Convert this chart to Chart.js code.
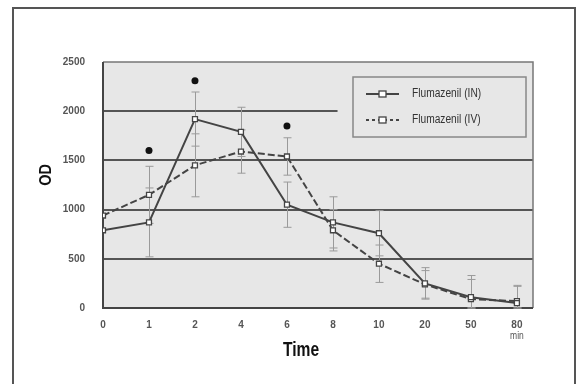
<!DOCTYPE html>
<html>
<head>
<meta charset="utf-8">
<script src="https://cdn.jsdelivr.net/npm/chart.js@4"></script>
<style>
  html, body { margin: 0; padding: 0; background: #fff; }
  #wrap { position: relative; width: 580px; height: 384px; overflow: hidden; }
  #frame { position: absolute; left: 12px; top: 7px; width: 564px; height: 400px; border: 2px solid #555; box-sizing: border-box; border-bottom: none; }
  canvas { position: absolute; left: 0; top: 0; }
</style>
</head>
<body>
<div id="wrap">
  <div id="frame"></div>
  <canvas id="od" width="580" height="384"></canvas>
</div>
<script>
// time points (min), drawn at evenly spaced positions
var timeLabels = ["0", "1", "2", "4", "6", "8", "10", "20", "50", "80"];

// mean OD per time point
var odIN = [790, 870, 1920, 1790, 1050, 870, 760, 250, 110, 50];
var odIV = [940, 1150, 1450, 1590, 1540, 790, 450, 240, 90, 70];

// SD for the error bars
var sdIN = [0, 350, 275, 250, 230, 260, 230, 160, 220, 180];
var sdIV = [0, 290, 320, 220, 190, 210, 190, 140, 200, 150];

// significance dots (*) at 1, 2 and 6 min
var sigIdx = [1, 2, 4];
var sigOD = [1600, 2310, 1850];

var yTicks = [0, 500, 1000, 1500, 2000, 2500];
var gridValues = [500, 1000, 1500, 2000];

var FONT = "'Liberation Sans', 'DejaVu Sans', sans-serif";

function pts(arr) {
    return arr.map(function (v, i) { return {x: i, y: v}; });
}

var sigPts = sigIdx.map(function (x, i) { return {x: x, y: sigOD[i]}; });

// text squeezed horizontally (condensed face)
function narrowText(ctx, txt, x, y, sx) {
    ctx.save();
    ctx.translate(x, y);
    ctx.scale(sx, 1);
    ctx.fillText(txt, 0, 0);
    ctx.restore();
}

// plot panel, grid lines, error bars, legend, titles
var panelPlugin = {
    id: "panel",
    beforeDatasetsDraw: function (chart) {
        var ctx = chart.ctx, a = chart.chartArea, ys = chart.scales.y, xs = chart.scales.x;
        ctx.save();
        ctx.fillStyle = "#e7e7e7";
        ctx.fillRect(a.left, a.top, a.right - a.left, a.bottom - a.top);
        ctx.strokeStyle = "#555";
        ctx.lineWidth = 2;
        gridValues.forEach(function (v) {
            var y = Math.round(ys.getPixelForValue(v));
            // the top grid line stops short of the legend box
            var xEnd = v === 2000 ? xs.getPixelForValue(5.1) : a.right;
            ctx.beginPath();
            ctx.moveTo(a.left, y);
            ctx.lineTo(xEnd, y);
            ctx.stroke();
        });
        ctx.strokeStyle = "#777";
        ctx.lineWidth = 1.5;
        ctx.beginPath();
        ctx.moveTo(a.left, a.top);
        ctx.lineTo(a.right, a.top);
        ctx.lineTo(a.right, a.bottom);
        ctx.stroke();
        ctx.strokeStyle = "#444";
        ctx.lineWidth = 2;
        ctx.beginPath();
        ctx.moveTo(a.left, a.top);
        ctx.lineTo(a.left, a.bottom);
        ctx.lineTo(a.right, a.bottom);
        ctx.stroke();

        // error bars
        ctx.strokeStyle = "#9a9a9a";
        ctx.lineWidth = 1;
        [[odIN, sdIN], [odIV, sdIV]].forEach(function (s) {
            s[0].forEach(function (v, i) {
                if (!s[1][i]) return;
                var x = Math.round(xs.getPixelForValue(i)) + 0.5;
                var hi = ys.getPixelForValue(v + s[1][i]);
                var lo = ys.getPixelForValue(Math.max(0, v - s[1][i]));
                ctx.beginPath();
                ctx.moveTo(x, hi); ctx.lineTo(x, lo);
                ctx.moveTo(x - 4, hi); ctx.lineTo(x + 4, hi);
                ctx.moveTo(x - 4, lo); ctx.lineTo(x + 4, lo);
                ctx.stroke();
            });
        });
        ctx.restore();
    },
    afterDraw: function (chart) {
        var ctx = chart.ctx, xs = chart.scales.x;
        ctx.save();
        // legend box
        ctx.strokeStyle = "#888";
        ctx.lineWidth = 1.5;
        ctx.strokeRect(353, 77, 173, 60);
        var rows = [["Flumazenil (IN)", [], 94], ["Flumazenil (IV)", [3, 3], 120]];
        rows.forEach(function (r) {
            ctx.strokeStyle = "#444";
            ctx.lineWidth = 2;
            ctx.setLineDash(r[1]);
            ctx.beginPath();
            ctx.moveTo(366, r[2]);
            ctx.lineTo(399, r[2]);
            ctx.stroke();
            ctx.setLineDash([]);
            ctx.fillStyle = "#fff";
            ctx.lineWidth = 1.3;
            ctx.fillRect(379, r[2] - 3, 7, 6);
            ctx.strokeRect(379, r[2] - 3, 7, 6);
            ctx.fillStyle = "#333";
            ctx.font = "12px " + FONT;
            ctx.textAlign = "left";
            ctx.textBaseline = "middle";
            narrowText(ctx, r[0], 412, r[2], 0.85);
        });
        // axis titles
        ctx.fillStyle = "#111";
        ctx.textAlign = "center";
        ctx.textBaseline = "middle";
        ctx.font = "bold 20px " + FONT;
        narrowText(ctx, "Time", 301, 350, 0.78);
        ctx.save();
        ctx.translate(46, 175);
        ctx.rotate(-Math.PI / 2);
        ctx.font = "bold 17px " + FONT;
        narrowText(ctx, "OD", 0, 0, 0.85);
        ctx.restore();
        ctx.fillStyle = "#555";
        ctx.font = "10px " + FONT;
        narrowText(ctx, "min", xs.getPixelForValue(9), 336, 0.85);
        ctx.restore();
    }
};

new Chart(document.getElementById("od"), {
    type: "line",
    data: {
        datasets: [
            {
                label: "Flumazenil (IN)",
                data: pts(odIN),
                borderColor: "#444",
                borderWidth: 2,
                pointStyle: "rect",
                pointRadius: 3.5,
                pointBackgroundColor: "#fff",
                pointBorderColor: "#444",
                pointBorderWidth: 1.3,
                tension: 0
            },
            {
                label: "Flumazenil (IV)",
                data: pts(odIV),
                borderColor: "#444",
                borderWidth: 2,
                borderDash: [7, 3],
                pointStyle: "rect",
                pointRadius: 3.5,
                pointBackgroundColor: "#fff",
                pointBorderColor: "#444",
                pointBorderWidth: 1.3,
                tension: 0
            },
            {
                label: "*",
                data: sigPts,
                showLine: false,
                pointStyle: "circle",
                pointRadius: 3.5,
                pointBackgroundColor: "#111",
                pointBorderColor: "#111",
                pointBorderWidth: 0
            }
        ]
    },
    options: {
        responsive: false,
        animation: false,
        events: [],
        layout: {padding: {left: 0, top: 62, right: 47, bottom: 0}},
        plugins: {legend: {display: false}, tooltip: {enabled: false}},
        scales: {
            x: {
                type: "linear",
                min: 0,
                max: 9.35,
                afterFit: function (s) { s.height = 76; },
                afterBuildTicks: function (s) {
                    s.ticks = timeLabels.map(function (t, i) { return {value: i}; });
                },
                grid: {display: false},
                border: {display: false},
                ticks: {
                    padding: 3,
                    color: "#555",
                    font: {family: FONT, size: 10, weight: "bold"},
                    callback: function (v) { return timeLabels[v]; }
                }
            },
            y: {
                min: 0,
                max: 2500,
                afterFit: function (s) { s.width = 103; },
                afterBuildTicks: function (s) {
                    s.ticks = yTicks.map(function (v) { return {value: v}; });
                },
                grid: {display: false},
                border: {display: false},
                ticks: {
                    padding: 10,
                    color: "#555",
                    font: {family: FONT, size: 10, weight: "bold"},
                    callback: function (v) { return String(v); }
                }
            }
        }
    },
    plugins: [panelPlugin]
});
</script>
</body>
</html>
